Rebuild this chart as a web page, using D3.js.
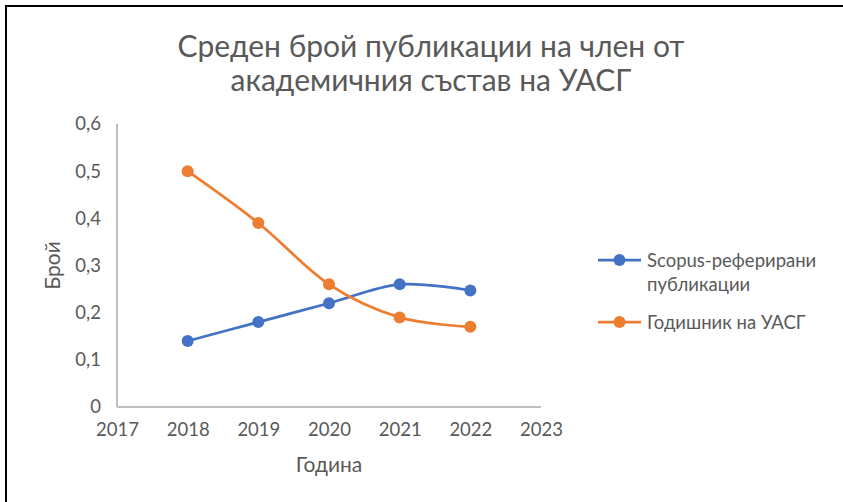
<!DOCTYPE html>
<html>
<head>
<meta charset="utf-8">
<script src="https://cdn.jsdelivr.net/npm/d3@7"></script>
<style>
  html, body { margin: 0; padding: 0; background: #fff; }
  svg { display: block; font-family: Lato, "Open Sans", sans-serif; }
</style>
</head>
<body>
<svg id="chart" width="843" height="502"></svg>
<script>
// Chart data
const years = [2018, 2019, 2020, 2021, 2022];
const scopusValues = [0.14, 0.18, 0.22, 0.26, 0.247];
const annualValues = [0.5, 0.39, 0.26, 0.19, 0.17];
const xTicks = [2017, 2018, 2019, 2020, 2021, 2022, 2023];
const yTicks = [0, 0.1, 0.2, 0.3, 0.4, 0.5, 0.6];
const seriesNames = ['Scopus-реферирани публикации', 'Годишник на УАСГ'];
const titleLines = ['Среден брой публикации на член от', 'академичния състав на УАСГ'];

const series = [
  { name: seriesNames[0], values: scopusValues, color: '#4472C4', legendLines: ['Scopus-реферирани', 'публикации'] },
  { name: seriesNames[1], values: annualValues, color: '#ED7D31', legendLines: ['Годишник на УАСГ'] }
];

const svg = d3.select('#chart');
const textColor = '#595959';
const axisColor = '#BFBFBF';

// Outer frame (top and left edges only)
svg.append('line').attr('x1', 5).attr('x2', 843).attr('y1', 6).attr('y2', 6)
  .attr('stroke', '#000').attr('stroke-width', 2);
svg.append('line').attr('x1', 6).attr('x2', 6).attr('y1', 5).attr('y2', 502)
  .attr('stroke', '#000').attr('stroke-width', 2);

// Scales
const xScale = d3.scaleLinear().domain([2017, 2023]).range([117, 541]);
const yScale = d3.scaleLinear().domain([0, 0.6]).range([407, 124]);

// Title
svg.append('text')
  .attr('x', 431).attr('y', 57)
  .attr('text-anchor', 'middle')
  .attr('fill', textColor)
  .style('font-size', '30px')
  .selectAll('tspan')
  .data(titleLines)
  .join('tspan')
  .attr('x', 431)
  .attr('dy', (d, i) => i === 0 ? 0 : 34)
  .text(d => d);

// Axes
const fmt = v => d3.format('.1f')(v).replace('.', ',');

const yAxis = d3.axisLeft(yScale).tickValues(yTicks).tickSize(0).tickPadding(16)
  .tickFormat(v => v === 0 ? '0' : fmt(v));
const xAxis = d3.axisBottom(xScale).tickValues(xTicks).tickSize(0).tickPadding(16)
  .tickFormat(d3.format('d'));

const gy = svg.append('g').attr('transform', 'translate(117,0)').call(yAxis);
const gx = svg.append('g').attr('transform', 'translate(0,407)').call(xAxis);

[gx, gy].forEach(g => {
  g.select('.domain').attr('stroke', axisColor).attr('stroke-width', 2);
  g.selectAll('text').attr('fill', textColor).style('font-size', '18.5px')
    .style('font-family', 'Lato, "Open Sans", sans-serif');
});
gx.select('.domain').attr('d', `M${xScale(2017)},0H${xScale(2023)}`);
gy.select('.domain').attr('d', `M0,${yScale(0.6)}V${yScale(0)}`);

// Axis titles
svg.append('text')
  .attr('x', xScale(2020)).attr('y', 472)
  .attr('text-anchor', 'middle')
  .attr('fill', textColor)
  .style('font-size', '21px')
  .text('Година');

svg.append('text')
  .attr('transform', `translate(60,${yScale(0.3)}) rotate(-90)`)
  .attr('text-anchor', 'middle')
  .attr('fill', textColor)
  .style('font-size', '21px')
  .text('Брой');

// Lines and markers
const line = d3.line()
  .x((d, i) => xScale(years[i]))
  .y(d => yScale(d))
  .curve(d3.curveCatmullRom.alpha(0));

series.forEach(s => {
  svg.append('path')
    .datum(s.values)
    .attr('fill', 'none')
    .attr('stroke', s.color)
    .attr('stroke-width', 2.75)
    .attr('stroke-linecap', 'round')
    .attr('d', line);

  svg.selectAll(null)
    .data(s.values)
    .join('circle')
    .attr('cx', (d, i) => xScale(years[i]))
    .attr('cy', d => yScale(d))
    .attr('r', 6)
    .attr('fill', s.color);
});

// Legend
const legendY = [260, 322];
series.forEach((s, i) => {
  const g = svg.append('g').attr('transform', `translate(598,${legendY[i]})`);
  g.append('line').attr('x1', 0).attr('x2', 43).attr('y1', 0).attr('y2', 0)
    .attr('stroke', s.color).attr('stroke-width', 2.75);
  g.append('circle').attr('cx', 21.5).attr('cy', 0).attr('r', 6).attr('fill', s.color);
  g.append('text')
    .attr('x', 49).attr('y', 7)
    .attr('fill', textColor)
    .style('font-size', '18.5px')
    .selectAll('tspan')
    .data(s.legendLines)
    .join('tspan')
    .attr('x', 49)
    .attr('dy', (d, j) => j === 0 ? 0 : 24)
    .text(d => d);
});
</script>
</body>
</html>
